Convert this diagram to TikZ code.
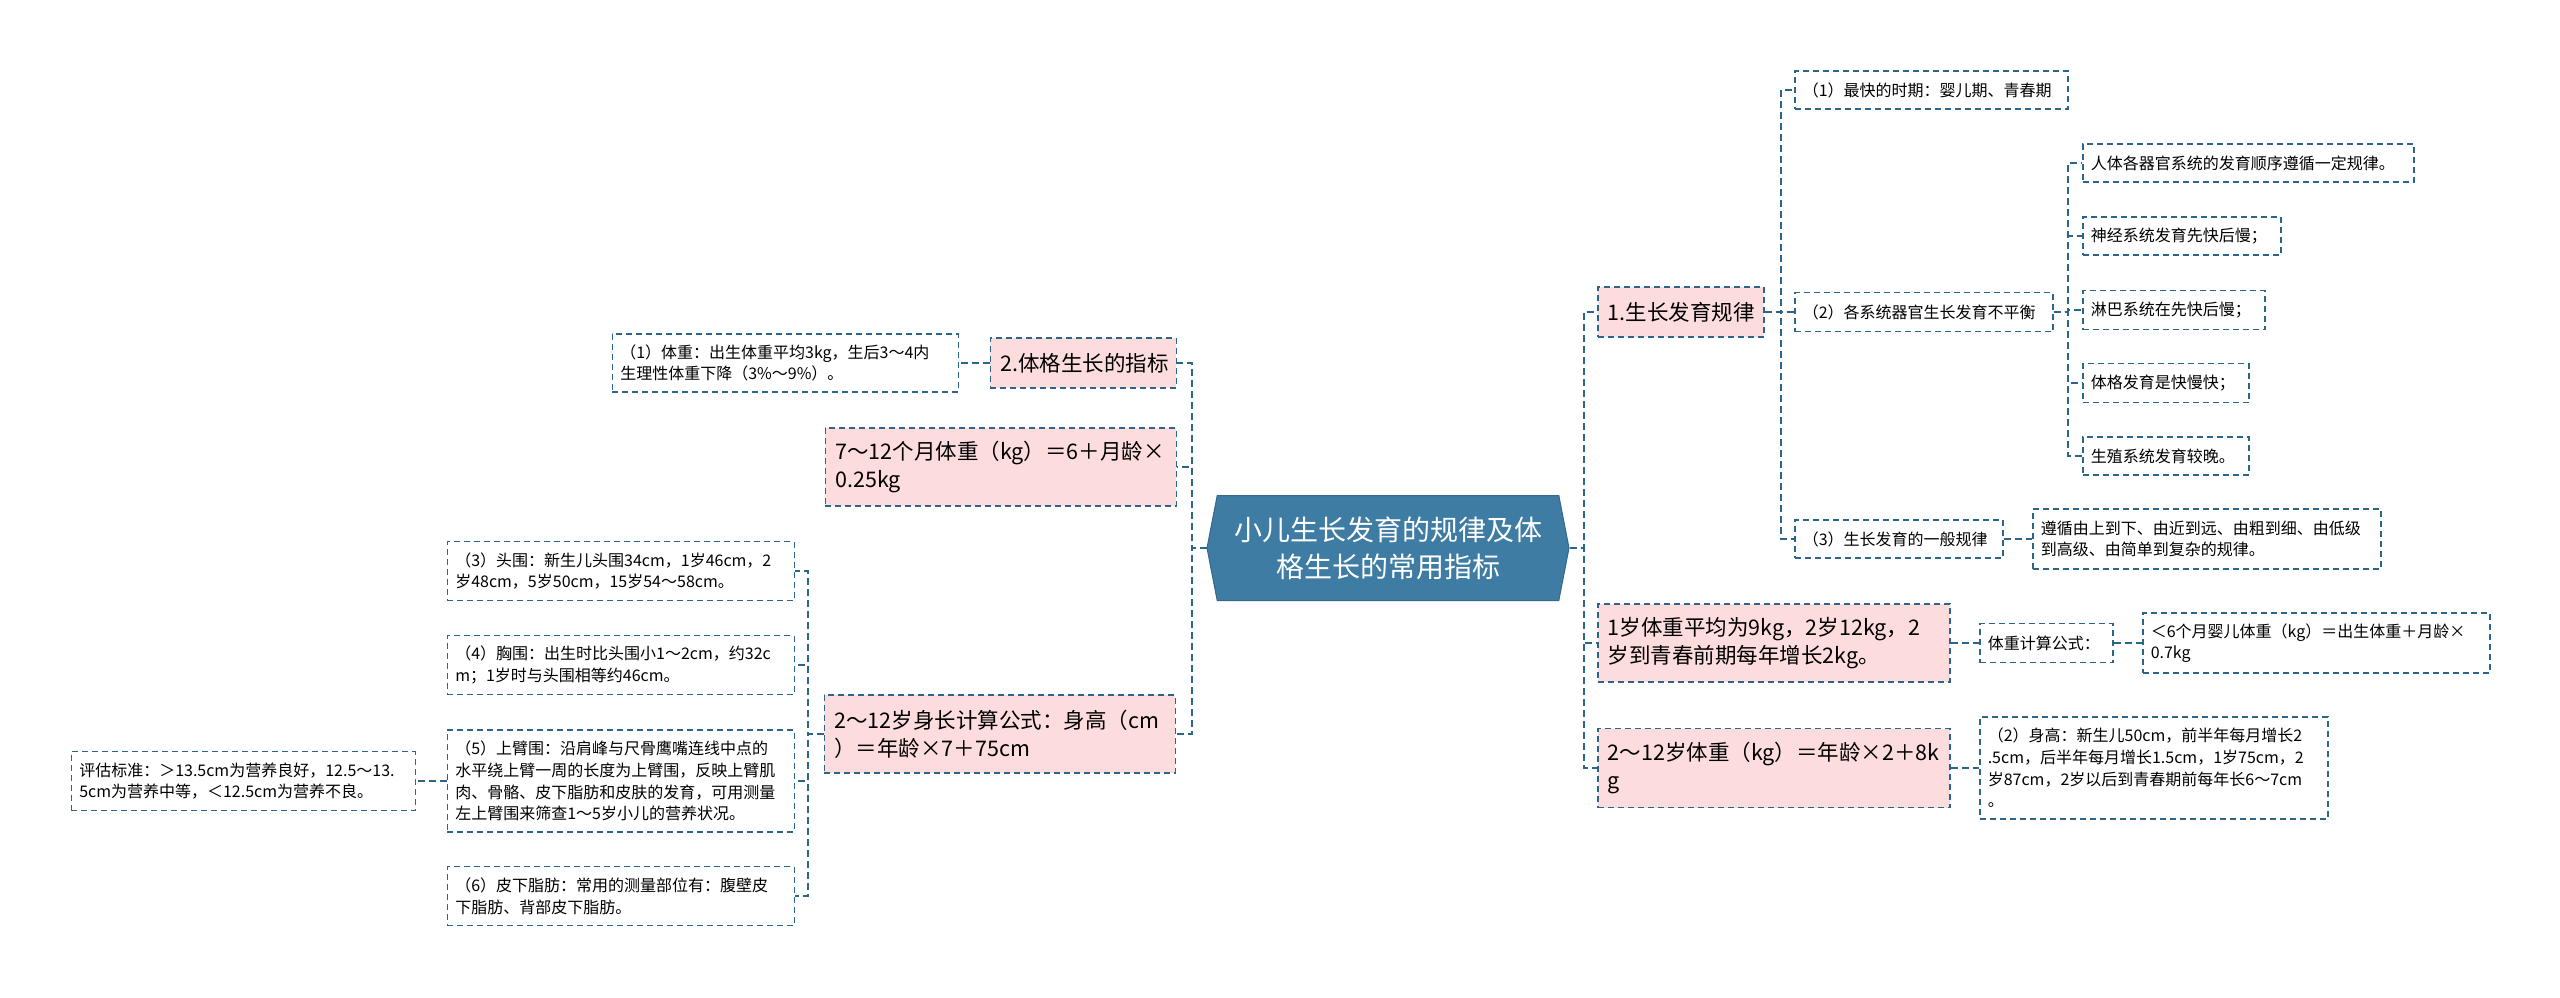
\documentclass[tikz,border=0pt]{standalone}
\usepackage{fontspec}
\setmainfont{Noto Sans CJK SC}
\usepackage{xcolor}
\usepackage{tikz}
\usetikzlibrary{positioning, shapes.symbols}
\definecolor{linec}{HTML}{2B6688}
\definecolor{pinkc}{HTML}{FCDCDC}
\definecolor{rootc}{HTML}{3E7CA3}
\newcommand{\leaffont}{\fontsize{16}{21.7}\selectfont}
\newcommand{\topicfont}{\fontsize{21.5}{28}\selectfont}
\newcommand{\rootfont}{\fontsize{28}{36.7}\selectfont}

\begin{document}
\begin{tikzpicture}[x=1pt, y=-1pt,
    leaf/.style={draw=linec, line width=1.5pt, dash pattern=on 6pt off 4pt, fill=white,
                 font=\leaffont, align=left, anchor=west, inner xsep=8pt, inner ysep=2pt},
    topic/.style={leaf, fill=pinkc, font=\topicfont, inner xsep=10pt},
    root/.style={signal, signal to=west and east, signal pointer angle=158, fill=rootc,
                 draw=rootc!85!black, line width=1pt, minimum width=362pt, minimum height=105pt,
                 font=\rootfont, text=white, align=center, inner sep=0pt},
    link/.style={draw=linec, line width=2pt, dash pattern=on 7pt off 4pt}
  ]
  \useasboundingbox[fill=white] (0,0) rectangle (2560,997);
  \node[root] (root) at (1388,548) {小儿生长发育的规律及体\\格生长的常用指标};

  % right half
  \node[topic, text width=146pt, minimum height=50pt] (law) at (1597,312) {1.生长发育规律};
  \node[leaf, text width=257pt, minimum height=38pt] (fast)    at (1794,90)  {（1）最快的时期：婴儿期、青春期};
  \node[leaf, text width=242pt, minimum height=39pt] (uneven)  at (1794,312) {（2）各系统器官生长发育不平衡};
  \node[leaf, text width=192pt, minimum height=38pt] (general) at (1794,539) {（3）生长发育的一般规律};
  \node[leaf, text width=315pt, minimum height=38pt] (organ) at (2082,163) {人体各器官系统的发育顺序遵循一定规律。};
  \node[leaf, text width=182pt, minimum height=38pt] (nerve) at (2082,236) {神经系统发育先快后慢；};
  \node[leaf, text width=166pt, minimum height=39pt] (lymph) at (2082,310) {淋巴系统在先快后慢；};
  \node[leaf, text width=150pt, minimum height=39pt] (body)  at (2082,383) {体格发育是快慢快；};
  \node[leaf, text width=150pt, minimum height=38pt] (repro) at (2082,456) {生殖系统发育较晚。};
  \node[leaf, text width=332pt, minimum height=60pt] (order) at (2032,539)
    {遵循由上到下、由近到远、由粗到细、由低级\\到高级、由简单到复杂的规律。};
  \node[topic, text width=332pt, minimum height=78pt] (wtone) at (1597,643)
    {1岁体重平均为9kg，2岁12kg，2\\岁到青春前期每年增长2kg。};
  \node[leaf, text width=117pt, minimum height=39pt] (wtcalc) at (1979,643) {体重计算公式：};
  \node[leaf, text width=331pt, minimum height=60pt] (wtsix) at (2142,643)
    {＜6个月婴儿体重（kg）＝出生体重＋月龄×\\0.7kg};
  \node[topic, text width=332pt, minimum height=79pt] (wttwo) at (1597,768)
    {2～12岁体重（kg）＝年龄×2＋8k\\g};
  \node[leaf, text width=332pt, minimum height=102pt] (height) at (1979,768)
    {（2）身高：新生儿50cm，前半年每月增长2\\.5cm，后半年每月增长1.5cm，1岁75cm，2\\岁87cm，2岁以后到青春期前每年长6～7cm\\。};

  % left half
  \node[topic, anchor=east, text width=166pt, minimum height=50pt] (index) at (1177,363) {2.体格生长的指标};
  \node[leaf, anchor=east, text width=330pt, minimum height=58pt] (birthwt) at (959,363)
    {（1）体重：出生体重平均3kg，生后3～4内\\生理性体重下降（3\%～9\%）。};
  \node[topic, anchor=east, text width=331pt, minimum height=78pt] (wtseven) at (1177,467)
    {7～12个月体重（kg）＝6＋月龄×\\0.25kg};
  \node[topic, anchor=east, text width=331pt, minimum height=78pt] (len) at (1176,734)
    {2～12岁身长计算公式：身高（cm\\）＝年龄×7＋75cm};
  \node[leaf, anchor=east, text width=331pt, minimum height=59pt] (head) at (795,571)
    {（3）头围：新生儿头围34cm，1岁46cm，2\\岁48cm，5岁50cm，15岁54～58cm。};
  \node[leaf, anchor=east, text width=331pt, minimum height=59pt] (chest) at (795,665)
    {（4）胸围：出生时比头围小1～2cm，约32c\\m；1岁时与头围相等约46cm。};
  \node[leaf, anchor=east, text width=331pt, minimum height=102pt] (arm) at (795,781)
    {（5）上臂围：沿肩峰与尺骨鹰嘴连线中点的\\水平绕上臂一周的长度为上臂围，反映上臂肌\\肉、骨骼、皮下脂肪和皮肤的发育，可用测量\\左上臂围来筛查1～5岁小儿的营养状况。};
  \node[leaf, anchor=east, text width=331pt, minimum height=59pt] (fat) at (795,896)
    {（6）皮下脂肪：常用的测量部位有：腹壁皮\\下脂肪、背部皮下脂肪。};
  \node[leaf, anchor=east, text width=328pt, minimum height=59pt] (assess) at (416,781)
    {评估标准：＞13.5cm为营养良好，12.5～13.\\5cm为营养中等，＜12.5cm为营养不良。};

  % connectors
  \foreach \c in {law, wtone, wttwo} \draw[link] (root.east) -- ++(14,0) |- (\c.west);
  \foreach \c in {index, wtseven, len} \draw[link] (root.west) -- ++(-15,0) |- (\c.east);
  \foreach \c in {fast, uneven, general} \draw[link] (law.east) -- ++(16,0) |- (\c.west);
  \foreach \c in {organ, nerve, lymph, body, repro} \draw[link] (uneven.east) -- ++(14,0) |- (\c.west);
  \foreach \c in {head, chest, arm, fat} \draw[link] (len.west) -- ++(-16,0) |- (\c.east);
  \draw[link] (general.east) -- (order.west);
  \draw[link] (wtone.east) -- (wtcalc.west);
  \draw[link] (wtcalc.east) -- (wtsix.west);
  \draw[link] (wttwo.east) -- (height.west);
  \draw[link] (index.west) -- (birthwt.east);
  \draw[link] (arm.west) -- (assess.east);
\end{tikzpicture}
\end{document}
